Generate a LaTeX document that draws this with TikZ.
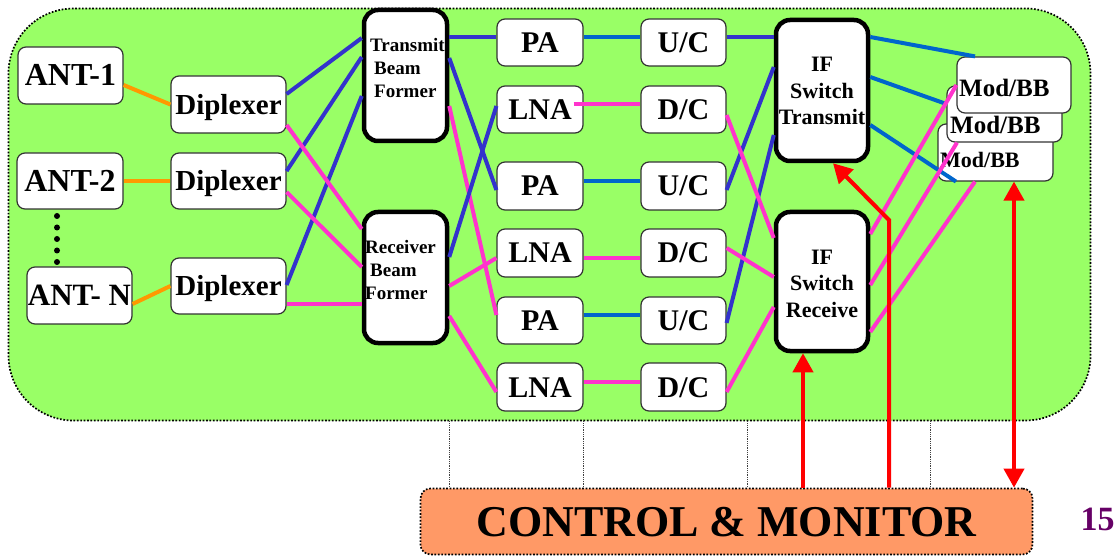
\documentclass[tikz,border=0pt]{standalone}
\usepackage{fontspec}
\setmainfont{Liberation Serif}
\usetikzlibrary{arrows.meta,calc}
\definecolor{panelgreen}{HTML}{99FF66}
\definecolor{dblue}{HTML}{3333CC}
\definecolor{lblue}{HTML}{0066CC}
\definecolor{pinkc}{HTML}{FF33CC}
\definecolor{orangec}{HTML}{FF9900}
\definecolor{ctrlfill}{HTML}{FF9966}
\definecolor{purplec}{HTML}{660066}
\begin{document}
\begin{tikzpicture}[x=1pt,y=-1pt,
  panel/.style={draw=black, fill=panelgreen, line width=1.7pt, dash pattern=on 1.7pt off 1.7pt, rounded corners=65pt, inner sep=0pt},
  ctrlbox/.style={draw=black, fill=ctrlfill, line width=1.7pt, dash pattern=on 1.7pt off 1.7pt, rounded corners=10pt, inner sep=0pt},
  smallbox/.style={draw=black!80, line width=1.2pt, fill=white, rounded corners=8pt, inner sep=0pt, font=\bfseries\fontsize{30}{30}\selectfont, text height=20pt, text depth=0pt},
  bigbox/.style={draw=black, line width=4.5pt, fill=white, rounded corners=14pt, inner sep=0pt},
  bftext/.style={font=\bfseries\fontsize{19}{23}\selectfont, align=left, inner sep=0pt, anchor=base west},
  iftext/.style={font=\bfseries\fontsize{22}{26.5}\selectfont, align=center, inner sep=0pt, anchor=base},
  wire/.style={line width=4pt},
  wdb/.style={wire, draw=dblue},
  wlb/.style={wire, draw=lblue},
  wpk/.style={wire, draw=pinkc},
  wor/.style={wire, draw=orangec},
  redarr/.style={draw=red, line width=4pt, -{Triangle[width=20pt,length=19pt]}},
  redarrtwo/.style={draw=red, line width=4pt, {Triangle[width=20pt,length=19pt]}-{Triangle[width=20pt,length=19pt]}},
  guide/.style={draw=black!75, line width=0.8pt, densely dotted}
]
\useasboundingbox (0,0) rectangle (1120,556);

% background panel and control box
\node[panel, minimum width=1082pt, minimum height=412pt] (panel) at (549.5,214.5) {};
\node[ctrlbox, minimum width=612pt, minimum height=66pt, font=\bfseries\fontsize{44}{44}\selectfont, text height=29pt, text depth=0pt] (ctrl) at (726.5,521.5) {CONTROL \& MONITOR};
\foreach \x [count=\i] in {449,583,747,930} {
  \coordinate (g\i) at (\x,0);
  \draw[guide] (panel.south -| g\i) -- (ctrl.north -| g\i);
}
\node[font=\bfseries\fontsize{34}{34}\selectfont, text=purplec, text height=23pt, text depth=0pt, inner sep=0pt] (pnum) at (1097.5,518.5) {15};

% antennas
\node[smallbox, font=\bfseries\fontsize{32}{32}\selectfont, text height=21pt, minimum width=105pt, minimum height=57pt] (ant1) at (70.5,75.5) {ANT-1};
\node[smallbox, font=\bfseries\fontsize{32}{32}\selectfont, text height=21pt, minimum width=106pt, minimum height=56pt] (ant2) at (70,181) {ANT-2};
\node[smallbox, font=\bfseries\fontsize{31}{31}\selectfont, minimum width=105pt, minimum height=57pt] (antn) at (79.5,295.5) {ANT- N};
\foreach \y in {216,227.5,239,250.5,262} \fill[black] (57,\y) circle (3pt);

% diplexers
\node[smallbox, font=\bfseries\fontsize{29}{29}\selectfont, minimum width=115pt, minimum height=57pt] (dip1) at (228.5,104.5) {Diplexer};
\node[smallbox, font=\bfseries\fontsize{29}{29}\selectfont, minimum width=115pt, minimum height=56pt] (dip2) at (228.5,181) {Diplexer};
\node[smallbox, font=\bfseries\fontsize{29}{29}\selectfont, minimum width=115pt, minimum height=56pt] (dip3) at (228.5,286) {Diplexer};

% beam formers
\node[bigbox, minimum width=83pt, minimum height=131pt] (tbf) at (405.5,75.5) {};
\node[bftext] (tbft) at (370,98) {Transmit\\\hspace*{4pt}Beam\\\hspace*{4pt}Former};
\node[bigbox, minimum width=83pt, minimum height=131pt] (rbf) at (405.5,277.5) {};
\node[bftext] (rbft) at (365,300) {Receiver\\\hspace*{5pt}Beam\\Former};

% PA / LNA
\node[smallbox, minimum width=86pt, minimum height=47pt] (pa1) at (540,42.5) {PA};
\node[smallbox, minimum width=86pt, minimum height=47pt] (lna1) at (540,109.5) {LNA};
\node[smallbox, minimum width=86pt, minimum height=48pt] (pa2) at (540,186) {PA};
\node[smallbox, minimum width=86pt, minimum height=48pt] (lna2) at (540,253) {LNA};
\node[smallbox, minimum width=86pt, minimum height=47pt] (pa3) at (540,320.5) {PA};
\node[smallbox, minimum width=86pt, minimum height=48pt] (lna3) at (540,387) {LNA};

% U/C D/C
\node[smallbox, minimum width=85pt, minimum height=47pt] (uc1) at (683.5,42.5) {U/C};
\node[smallbox, minimum width=85pt, minimum height=47pt] (dc1) at (683.5,109.5) {D/C};
\node[smallbox, minimum width=85pt, minimum height=48pt] (uc2) at (683.5,186) {U/C};
\node[smallbox, minimum width=85pt, minimum height=48pt] (dc2) at (683.5,253) {D/C};
\node[smallbox, minimum width=85pt, minimum height=47pt] (uc3) at (683.5,320.5) {U/C};
\node[smallbox, minimum width=85pt, minimum height=48pt] (dc3) at (683.5,387) {D/C};

% IF switches
\node[bigbox, minimum width=92pt, minimum height=141pt] (ift) at (822,90.5) {};
\node[iftext] (iftt) at (822,125) {IF\\Switch\\Transmit};
\node[bigbox, minimum width=92pt, minimum height=139pt] (ifr) at (822,281.5) {};
\node[iftext] (ifrt) at (822,317) {IF\\Switch\\Receive};

% Mod/BB stack
\node[smallbox, minimum width=115pt, minimum height=57pt] (mod3) at (995.5,152.5) {};
\node[font=\bfseries\fontsize{22}{22}\selectfont, inner sep=0pt, anchor=base west] (mod3t) at (940,168) {Mod/BB};
\node[smallbox, minimum width=115pt, minimum height=56pt] (mod2) at (1004.5,114) {};
\node[font=\bfseries\fontsize{25}{25}\selectfont, inner sep=0pt, anchor=base west] (mod2t) at (950,134) {Mod/BB};
\node[smallbox, minimum width=114pt, minimum height=56pt] (mod1) at (1014,85) {};
\node[font=\bfseries\fontsize{25}{25}\selectfont, inner sep=0pt, anchor=base west] (mod1t) at (959,97) {Mod/BB};

% antenna to diplexer
\draw[wor] ([yshift=-9.5pt]ant1.east) -- (dip1.west);
\draw[wor] (ant2.east) -- (dip2.west);
\draw[wor] ([yshift=-8.5pt]antn.east) -- (dip3.west);

% diplexer to beam formers
\draw[wdb] ([yshift=10.5pt]dip1.east) -- ([yshift=37.5pt]tbf.west);
\draw[wdb] ([yshift=10pt]dip2.east) -- ([yshift=18.5pt]tbf.west);
\draw[wdb] ([yshift=1pt]dip3.east) -- ([yshift=-20.5pt]tbf.west);
\draw[wpk] ([yshift=-20.5pt]dip1.east) -- ([yshift=48.5pt]rbf.west);
\draw[wpk] ([yshift=-11pt]dip2.east) -- ([yshift=10.5pt]rbf.west);
\draw[wpk] ([yshift=-18pt]dip3.east) -- ([yshift=-26.5pt]rbf.west);

% beam formers to PA/LNA
\draw[wdb] ([yshift=38.5pt]tbf.east) -- ([yshift=5.5pt]pa1.west);
\draw[wdb] ([yshift=17.5pt]tbf.east) -- ([yshift=-4pt]pa2.west);
\draw[wpk] ([yshift=-30.5pt]tbf.east) -- ([yshift=5.5pt]pa3.west);
\draw[wdb] ([yshift=20.5pt]rbf.east) -- ([yshift=3.5pt]lna1.west);
\draw[wpk] ([yshift=-8.5pt]rbf.east) -- ([yshift=-5pt]lna2.west);
\draw[wpk] ([yshift=-38.5pt]rbf.east) -- ([yshift=-5pt]lna3.west);

% PA/LNA to U/C D/C
\draw[wlb] ([yshift=5.5pt]pa1.east) -- ([yshift=5.5pt]uc1.west);
\draw[wlb] ([yshift=5pt]pa2.east) -- ([yshift=5pt]uc2.west);
\draw[wlb] ([yshift=5.5pt]pa3.east) -- ([yshift=5.5pt]uc3.west);
\draw[wpk] ([xshift=-10pt,yshift=5.5pt]lna1.east) -- ([yshift=5.5pt]dc1.west);
\draw[wpk] ([yshift=-5pt]lna2.east) -- ([yshift=-5pt]dc2.west);
\draw[wpk] ([yshift=5pt]lna3.east) -- ([yshift=5pt]dc3.west);

% U/C D/C to IF switches
\draw[wdb] ([yshift=5.5pt]uc1.east) -- ([yshift=53.5pt]ift.west);
\draw[wdb] ([yshift=-4pt]uc2.east) -- ([yshift=23.5pt]ift.west);
\draw[wdb] ([yshift=-2.5pt]uc3.east) -- ([yshift=-44.5pt]ift.west);
\draw[wpk] ([yshift=-5.5pt]dc1.east) -- ([yshift=43.5pt]ifr.west);
\draw[wpk] ([yshift=5pt]dc2.east) -- ([yshift=4.5pt]ifr.west);
\draw[wpk] ([yshift=-5pt]dc3.east) -- ([yshift=-25.5pt]ifr.west);

% IF switches to Mod/BB
\draw[wlb] ([yshift=53.5pt]ift.east) -- ([xshift=-39pt]mod1.north);
\draw[wlb] ([yshift=13.5pt]ift.east) -- ([yshift=10pt]mod2.west);
\draw[wlb] ([yshift=-34.5pt]ift.east) -- ([xshift=-39.5pt]mod3.south);
\draw[wpk] ([yshift=47.5pt]ifr.east) -- (mod1.west);
\draw[wpk] ([yshift=-3.5pt]ifr.east) -- ([xshift=-47.5pt]mod2.south);
\draw[wpk] ([yshift=-50.5pt]ifr.east) -- ([xshift=-20.5pt]mod3.south);

% control arrows
\coordinate (a1) at ([xshift=-19pt]ifr.south);
\draw[redarr] (a1 |- ctrl.north) -- (a1);
\coordinate (bend) at (889,220);
\draw[redarr] (bend |- ctrl.north) -- (bend) -- ([xshift=11pt]ift.south);
\coordinate (a3) at ([xshift=18.5pt]mod3.south);
\draw[redarrtwo] (a3 |- ctrl.north) -- (a3);
\end{tikzpicture}
\end{document}
